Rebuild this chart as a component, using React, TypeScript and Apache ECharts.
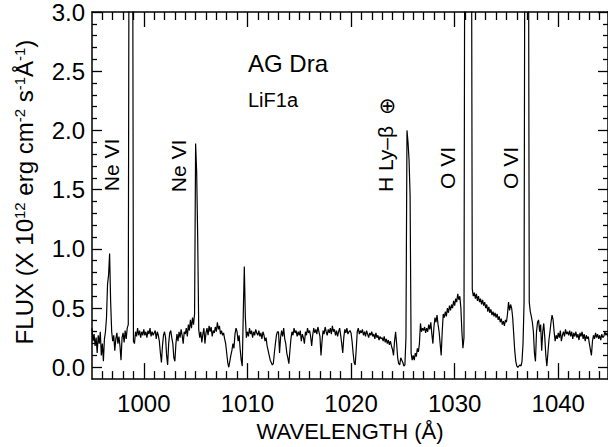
import React, { useEffect, useRef } from "react";
import * as echarts from "echarts";

// Wavelength grid of the sampled spectrum (Å)
const WAVE_START = 995.0;
const WAVE_STEP = 0.1;

// Flux (x 10^12 erg cm^-2 s^-1 Å^-1), one value every 0.1 Å
const flux995 = [
  0.33, 0.22, 0.28, 0.18, 0.25, 0.12, 0.27, 0.20, 0.30, 0.10,
  0.20, 0.05, 0.24, 0.30, 0.42, 0.70, 0.78, 0.96, 0.55, 0.30,
  0.22, 0.27, 0.14, 0.24, 0.29, 0.20, 0.26, 0.18, 0.06, 0.25,
  0.29, 0.21, 0.31, 0.24, 0.33, 0.36, 5.0, 5.0, 5.0, 5.0,
  0.22, 0.20, 0.30, 0.26, 0.33, 0.27, 0.31, 0.25, 0.30, 0.27,
];
const flux1000 = [
  0.32, 0.27, 0.30, 0.25, 0.31, 0.28, 0.33, 0.26, 0.30, 0.27,
  0.29, 0.31, 0.24, 0.30, 0.27, 0.22, 0.12, 0.04, 0.18, 0.27,
  0.30, 0.25, 0.10, 0.02, 0.20, 0.29, 0.31, 0.25, 0.20, 0.08,
  0.05, 0.20, 0.28, 0.22, 0.30, 0.25, 0.32, 0.27, 0.20, 0.30,
  0.28, 0.33, 0.26, 0.36, 0.31, 0.40, 0.33, 0.42, 0.36, 0.45,
];
const flux1005 = [
  1.89, 1.65, 1.10, 0.32, 0.25, 0.30, 0.21, 0.28, 0.33, 0.20,
  0.29, 0.33, 0.27, 0.35, 0.30, 0.34, 0.26, 0.31, 0.29, 0.34,
  0.30, 0.38, 0.32, 0.35, 0.28, 0.31, 0.27, 0.29, 0.24, 0.20,
  0.12, 0.04, 0.00, 0.05, 0.10, 0.14, 0.20, 0.16, 0.28, 0.33,
  0.30, 0.22, 0.27, 0.15, 0.06, 0.01, 0.45, 0.85, 0.42, 0.25,
];
const flux1010 = [
  0.30, 0.26, 0.33, 0.28, 0.31, 0.25, 0.30, 0.27, 0.32, 0.29,
  0.27, 0.31, 0.26, 0.29, 0.24, 0.30, 0.27, 0.22, 0.25, 0.18,
  0.14, 0.10, 0.06, 0.04, 0.02, 0.03, 0.12, 0.20, 0.27, 0.30,
  0.30, 0.12, 0.25, 0.31, 0.26, 0.33, 0.24, 0.20, 0.12, 0.08,
  0.03, 0.14, 0.24, 0.30, 0.27, 0.33, 0.29, 0.31, 0.26, 0.30,
];
const flux1015 = [
  0.27, 0.31, 0.22, 0.28, 0.25, 0.20, 0.30, 0.27, 0.33, 0.29,
  0.31, 0.26, 0.18, 0.27, 0.33, 0.29, 0.32, 0.28, 0.34, 0.30,
  0.26, 0.10, 0.22, 0.31, 0.28, 0.34, 0.30, 0.27, 0.32, 0.29,
  0.33, 0.28, 0.35, 0.30, 0.32, 0.27, 0.31, 0.26, 0.30, 0.33,
  0.27, 0.20, 0.12, 0.25, 0.32, 0.29, 0.33, 0.28, 0.30, 0.31,
];
const flux1020 = [
  0.29, 0.22, 0.12, 0.04, 0.02, 0.15, 0.30, 0.33, 0.28, 0.31,
  0.29, 0.32, 0.27, 0.30, 0.26, 0.31, 0.28, 0.25, 0.29, 0.27,
  0.30, 0.26, 0.28, 0.24, 0.29, 0.25, 0.27, 0.23, 0.26, 0.24,
  0.25, 0.22, 0.26, 0.21, 0.24, 0.20, 0.23, 0.19, 0.22, 0.18,
  0.15, 0.10, 0.22, 0.30, 0.20, 0.08, 0.03, 0.02, 0.08, 0.06,
];
const flux1025 = [
  0.04, 0.01, 0.02, 0.25, 2.00, 1.90, 1.75, 1.45, 0.12, 0.06,
  0.10, 0.06, 0.12, 0.09, 0.16, 0.13, 0.20, 0.37, 0.30, 0.33,
  0.31, 0.34, 0.29, 0.33, 0.30, 0.36, 0.32, 0.38, 0.28, 0.20,
  0.34, 0.42, 0.38, 0.44, 0.36, 0.30, 0.20, 0.10, 0.30, 0.45,
  0.42, 0.47, 0.43, 0.50, 0.46, 0.52, 0.48, 0.53, 0.50, 0.56,
];
const flux1030 = [
  0.52, 0.58, 0.55, 0.62, 0.57, 0.60, 0.50, 0.30, 0.16, 0.25,
  5.0, 5.0, 5.0, 5.0, 5.0, 5.0, 5.0, 0.66, 0.60, 0.63,
  0.58, 0.62, 0.56, 0.60, 0.55, 0.58, 0.53, 0.57, 0.52, 0.55,
  0.50, 0.53, 0.47, 0.51, 0.46, 0.49, 0.44, 0.47, 0.43, 0.46,
  0.42, 0.45, 0.40, 0.43, 0.38, 0.41, 0.36, 0.39, 0.35, 0.40,
];
const flux1035 = [
  0.38, 0.45, 0.55, 0.48, 0.53, 0.50, 0.42, 0.28, 0.14, 0.05,
  0.01, 0.00, 0.01, 0.02, 0.01, 0.05, 0.20, 0.55, 5.0, 5.0,
  5.0, 5.0, 0.55, 0.47, 0.43, 0.38, 0.30, 0.12, 0.05, 0.30,
  0.38, 0.40, 0.30, 0.36, 0.14, 0.30, 0.37, 0.25, 0.10, 0.01,
  0.12, 0.23, 0.30, 0.38, 0.44, 0.40, 0.30, 0.22, 0.27, 0.24,
];
const flux1040 = [
  0.29, 0.25, 0.31, 0.22, 0.27, 0.30, 0.26, 0.32, 0.28, 0.30,
  0.27, 0.31, 0.26, 0.30, 0.24, 0.29, 0.26, 0.30, 0.25, 0.28,
  0.23, 0.29, 0.26, 0.30, 0.24, 0.28, 0.22, 0.27, 0.24, 0.26,
  0.20, 0.15, 0.10, 0.22, 0.27, 0.24, 0.29, 0.25, 0.28, 0.24,
  0.27, 0.23, 0.28, 0.25, 0.26, 0.30, 0.27, 0.29, 0.26,
];

// Axis ranges and ticks
const X_MIN = 995;
const X_MAX = 1044.8;
const Y_MIN = -0.1;
const Y_MAX = 3.0;
const xMajorTicks = [1000, 1010, 1020, 1030, 1040];
const xMinorTicks = [
  996, 997, 998, 999, 1001, 1002, 1003, 1004, 1005, 1006, 1007, 1008, 1009,
  1011, 1012, 1013, 1014, 1015, 1016, 1017, 1018, 1019, 1021, 1022, 1023,
  1024, 1025, 1026, 1027, 1028, 1029, 1031, 1032, 1033, 1034, 1035, 1036,
  1037, 1038, 1039, 1041, 1042, 1043, 1044,
];
const yMajorTicks = [0, 0.5, 1.0, 1.5, 2.0, 2.5, 3.0];
const yTickLabels = ["0.0", "0.5", "1.0", "1.5", "2.0", "2.5", "3.0"];
const yMinorTicks = [
  0.1, 0.2, 0.3, 0.4, 0.6, 0.7, 0.8, 0.9, 1.1, 1.2, 1.3, 1.4, 1.6, 1.7, 1.8,
  1.9, 2.1, 2.2, 2.3, 2.4, 2.6, 2.7, 2.8, 2.9,
];

// Texts
const xTitle = "WAVELENGTH (Å)";
const starName = "AG Dra";
const channelName = "LiF1a";
const lineLabels = [
  { text: "Ne VI", x: 111, y: 165 },
  { text: "Ne VI", x: 178, y: 166 },
  { text: "H Ly–β", x: 385, y: 159 },
  { text: "⊕", x: 386, y: 106 },
  { text: "O VI", x: 447, y: 168 },
  { text: "O VI", x: 510, y: 168 },
];

const FONT = "'Liberation Sans', Arial, Helvetica, sans-serif";
const BLACK = "#000";

export default function App() {
  const ref = useRef<HTMLDivElement>(null);

  useEffect(() => {
    if (!ref.current) return;
    const chart = echarts.init(ref.current, null, { renderer: "svg" });

    const allFlux = [
      ...flux995, ...flux1000, ...flux1005, ...flux1010, ...flux1015,
      ...flux1020, ...flux1025, ...flux1030, ...flux1035, ...flux1040,
    ];
    const spectrum = allFlux.map((f, i) => [
      Math.round((WAVE_START + i * WAVE_STEP) * 100) / 100,
      f,
    ]);

    const lineStyle = { color: BLACK, width: 1.5 };
    const tickStyle = { color: BLACK, width: 1.3 };

    const xBase = {
      type: "value" as const,
      min: X_MIN,
      max: X_MAX,
      splitLine: { show: false },
      axisPointer: { show: false },
    };
    const yBase = {
      type: "value" as const,
      min: Y_MIN,
      max: Y_MAX,
      splitLine: { show: false },
      axisPointer: { show: false },
    };

    chart.setOption({
      animation: false,
      backgroundColor: "#fff",
      grid: { left: 92, top: 12, right: -4, bottom: 66 },
      xAxis: [
        {
          ...xBase,
          position: "bottom",
          axisLine: { show: true, onZero: false, lineStyle },
          axisTick: { show: true, inside: true, length: 16, customValues: xMajorTicks, lineStyle: tickStyle },
          axisLabel: {
            show: true,
            customValues: xMajorTicks,
            formatter: (v: number) => String(Math.round(v)),
            fontSize: 24,
            fontFamily: FONT,
            color: BLACK,
            margin: 12,
          },
          name: xTitle,
          nameLocation: "middle",
          nameGap: 33,
          nameTextStyle: { fontSize: 22, fontFamily: FONT, color: BLACK },
        },
        {
          ...xBase,
          position: "bottom",
          axisLine: { show: false, onZero: false },
          axisTick: { show: true, inside: true, length: 8, customValues: xMinorTicks, lineStyle: tickStyle },
          axisLabel: { show: false },
        },
        {
          ...xBase,
          position: "top",
          axisLine: { show: true, onZero: false, lineStyle },
          axisTick: { show: true, inside: true, length: 15, customValues: xMajorTicks, lineStyle: tickStyle },
          axisLabel: { show: false },
        },
        {
          ...xBase,
          position: "top",
          axisLine: { show: false, onZero: false },
          axisTick: { show: true, inside: true, length: 8, customValues: xMinorTicks, lineStyle: tickStyle },
          axisLabel: { show: false },
        },
      ],
      yAxis: [
        {
          ...yBase,
          position: "left",
          axisLine: { show: true, onZero: false, lineStyle },
          axisTick: { show: true, inside: true, length: 10, customValues: yMajorTicks, lineStyle: tickStyle },
          axisLabel: {
            show: true,
            customValues: yMajorTicks,
            formatter: (v: number) => {
              const idx = yMajorTicks.findIndex((t) => Math.abs(t - v) < 1e-6);
              return idx >= 0 ? yTickLabels[idx] : "";
            },
            fontSize: 24,
            fontFamily: FONT,
            color: BLACK,
            margin: 7,
          },
        },
        {
          ...yBase,
          position: "left",
          axisLine: { show: false, onZero: false },
          axisTick: { show: true, inside: true, length: 5, customValues: yMinorTicks, lineStyle: tickStyle },
          axisLabel: { show: false },
        },
        {
          ...yBase,
          position: "right",
          axisLine: { show: true, onZero: false, lineStyle },
          axisTick: { show: true, inside: true, length: 10, customValues: yMajorTicks, lineStyle: tickStyle },
          axisLabel: { show: false },
        },
        {
          ...yBase,
          position: "right",
          axisLine: { show: false, onZero: false },
          axisTick: { show: true, inside: true, length: 5, customValues: yMinorTicks, lineStyle: tickStyle },
          axisLabel: { show: false },
        },
      ],
      series: [
        {
          type: "line",
          xAxisIndex: 0,
          yAxisIndex: 0,
          data: spectrum,
          showSymbol: false,
          symbol: "none",
          clip: true,
          lineStyle: { color: BLACK, width: 1.2 },
          silent: true,
        },
      ],
      graphic: [
        {
          type: "text",
          x: 24,
          y: 192,
          rotation: Math.PI / 2,
          style: {
            text:
              "{m|FLUX (X 10}{s|12}{m| erg cm}{s|-2}{m| s}{s|-1}{m|Å}{s|-1}{m|)}",
            rich: {
              m: { fontSize: 24, fontFamily: FONT, fill: BLACK },
              s: { fontSize: 15, fontFamily: FONT, fill: BLACK, verticalAlign: "top" },
            },
            align: "center",
            verticalAlign: "middle",
          },
        },
        {
          type: "text",
          x: 248,
          y: 63,
          style: {
            text: starName,
            fontSize: 24,
            fontFamily: FONT,
            fill: BLACK,
            align: "left",
            verticalAlign: "middle",
          },
        },
        {
          type: "text",
          x: 248,
          y: 100,
          style: {
            text: channelName,
            fontSize: 20,
            fontFamily: FONT,
            fill: BLACK,
            align: "left",
            verticalAlign: "middle",
          },
        },
        ...lineLabels.map((l) => ({
          type: "text",
          x: l.x,
          y: l.y,
          rotation: Math.PI / 2,
          style: {
            text: l.text,
            fontSize: 21,
            fontFamily: FONT,
            fill: BLACK,
            align: "center",
            verticalAlign: "middle",
          },
        })),
      ],
    });

    return () => chart.dispose();
  }, []);

  return (
    <div
      ref={ref}
      style={{ position: "absolute", left: 0, top: 0, width: 608, height: 447 }}
    />
  );
}
